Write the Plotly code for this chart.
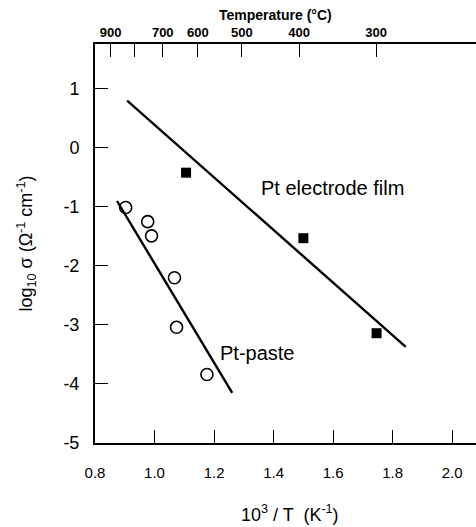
import plotly.graph_objects as go

# Data
film_x = [1.106, 1.50, 1.746]
film_y = [-0.42, -1.53, -3.14]
film_fit_x = [0.908, 1.844]
film_fit_y = [0.80, -3.37]

paste_x = [0.903, 0.977, 0.990, 1.067, 1.074, 1.176]
paste_y = [-1.01, -1.25, -1.49, -2.20, -3.04, -3.84]
paste_fit_x = [0.874, 1.261]
paste_fit_y = [-0.90, -4.15]

x_ticks = [0.8, 1.0, 1.2, 1.4, 1.6, 1.8, 2.0]
x_ticktext = ["0.8", "1.0", "1.2", "1.4", "1.6", "1.8", "2.0"]
y_ticks = [1, 0, -1, -2, -3, -4, -5]
y_ticktext = ["1", "0", "-1", "-2", "-3", "-4", "-5"]
temps_c = [900, 800, 700, 600, 500, 400, 300]
temp_labels = ["900", "", "700", "600", "500", "400", "300"]
temp_pos = [1000.0 / (t + 273.15) for t in temps_c]

FONT = "Liberation Sans, Arial, sans-serif"

fig = go.Figure()
fig.add_trace(go.Scatter(x=film_fit_x, y=film_fit_y, mode="lines",
                         line=dict(color="black", width=2.4), showlegend=False))
fig.add_trace(go.Scatter(x=paste_fit_x, y=paste_fit_y, mode="lines",
                         line=dict(color="black", width=2.4), showlegend=False))
fig.add_trace(go.Scatter(x=film_x, y=film_y, mode="markers",
                         marker=dict(symbol="square", size=10, color="black"),
                         showlegend=False))
fig.add_trace(go.Scatter(x=paste_x, y=paste_y, mode="markers",
                         marker=dict(symbol="circle-open", size=12, color="black",
                                     line=dict(width=1.6, color="black")),
                         showlegend=False))
# dummy trace for top axis
fig.add_trace(go.Scatter(x=[temp_pos[0]], y=[0], xaxis="x2", mode="markers",
                         marker=dict(opacity=0), showlegend=False, hoverinfo="skip"))

xr = [0.8, 2.08]
yr = [-5, 1.76]

fig.update_layout(
    width=476, height=527,
    margin=dict(l=95, r=0, t=44, b=84),
    paper_bgcolor="white", plot_bgcolor="white",
    font=dict(family=FONT, color="black", size=14),
    xaxis=dict(range=xr, tickvals=x_ticks, ticktext=x_ticktext, automargin=False,
               ticks="inside", ticklen=13, tickwidth=1, tickcolor="black",
               showline=True, linewidth=2, linecolor="black",
               showgrid=False, zeroline=False, ticklabelstandoff=15,
               tickfont=dict(size=15)),
    xaxis2=dict(range=xr, overlaying="x", side="top", anchor="y", automargin=False,
                tickvals=temp_pos, ticktext=temp_labels,
                ticks="inside", ticklen=13, tickwidth=1, tickcolor="black",
                showline=True, linewidth=2, linecolor="black",
                showgrid=False, zeroline=False, ticklabelstandoff=0,
                tickfont=dict(size=13, family="Liberation Sans, Arial", weight="bold")),
    yaxis=dict(range=yr, tickvals=y_ticks, ticktext=y_ticktext, automargin=False,
               ticks="inside", ticklen=13, tickwidth=1, tickcolor="black",
               showline=True, linewidth=2, linecolor="black",
               showgrid=False, zeroline=False, ticklabelstandoff=10,
               tickfont=dict(size=18),
               title=dict(text="log<sub>10</sub> σ (Ω<sup>-1</sup> cm<sup>-1</sup>)",
                          font=dict(size=18), standoff=26)),
)

fig.add_annotation(x=1.598, y=-0.68, text="Pt electrode film", showarrow=False,
                   font=dict(size=20))
fig.add_annotation(x=1.345, y=-3.47, text="Pt-paste", showarrow=False,
                   font=dict(size=20))
fig.add_annotation(xref="paper", yref="paper", x=(275 - 95) / 381, y=1 + (44 - 15) / 399,
                   text="<b>Temperature (°C)</b>", showarrow=False,
                   font=dict(size=14), yanchor="middle")
fig.add_annotation(xref="paper", yref="paper", x=(290 - 95) / 381, y=-(513 - 443) / 399,
                   text="10<sup>3</sup> / T  (K<sup>-1</sup>)", showarrow=False,
                   font=dict(size=18), yanchor="middle")

fig.write_html("out.html", config={"displayModeBar": False},
               post_script="document.body.style.margin='0';document.body.style.overflow='hidden';")
